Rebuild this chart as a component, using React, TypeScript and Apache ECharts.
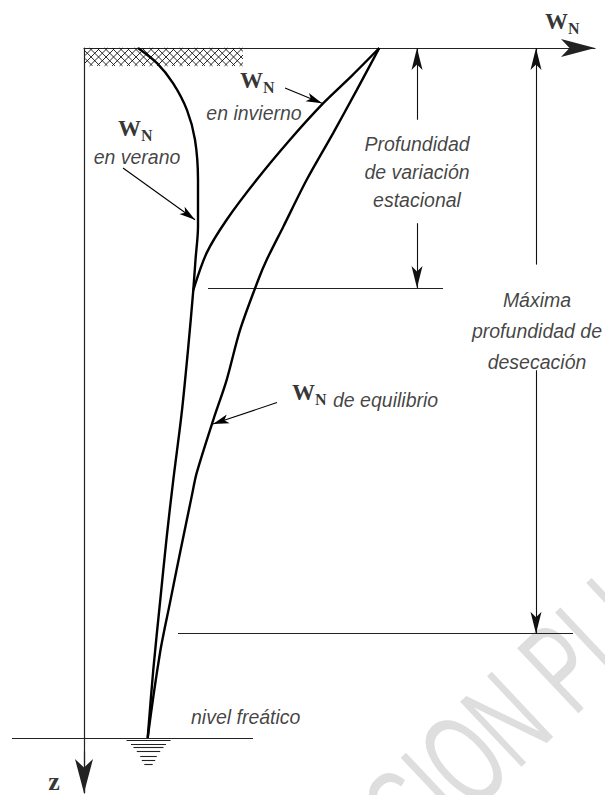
import React, { useEffect, useRef } from "react";
import * as echarts from "echarts";

// Water content W_N (horizontal) against depth z (vertical, downward); water table at z = 10
const summerW = [5.4, 7.3, 8.9, 10.3, 11.1, 11.4, 11.4, 11.15, 10.93, 10.43, 9.77, 8.93, 8.27, 7.6, 6.93, 6.37];
const summerZ = [0, 0.22, 0.51, 0.9, 1.33, 1.91, 2.59, 3.07, 3.51, 4.33, 5.29, 6.26, 7.09, 8.04, 9.01, 10.0];
const winterW = [29.53, 26.8, 23.93, 20.6, 17.27, 14.27, 12.27, 10.93];
const winterZ = [0, 0.4, 0.8, 1.33, 1.91, 2.49, 2.97, 3.51];
const equilW = [29.53, 27.27, 24.93, 22.27, 19.93, 18.27, 17.43, 15.6, 14.27, 12.93, 11.27, 10.77, 9.6, 8.6, 7.6, 6.37];
const equilZ = [0, 0.61, 1.23, 1.91, 2.59, 3.07, 3.36, 4.09, 4.81, 5.39, 6.16, 6.5, 7.32, 8.04, 8.77, 10.0];

// axis extents
const wMax = 51.1;
const zMax = 10.8;

// reference depths and the W_N span of their lines
const refDepths = [3.48, 8.49, 10.0];
const refFromW = [12.4, 9.4, -7.2];
const refToW = [35.9, 48.9, 16.9];

// water-table symbol below the line
const waterMarkW = 6.45;
const waterMarkDepth = [10.04, 10.09, 10.14, 10.2, 10.26, 10.32, 10.39];
const waterMarkHalf = [2.2, 1.75, 1.5, 1.17, 0.83, 0.67, 0.42];

// hatched surface crust [w0, w1, z0, z1]
const crustBox = [0.1, 15.9, 0, 0.26];

// pointer arrows (to curves), dimension arrows and axis arrowheads
const pointerFrom = [[3.9, 1.74], [20.1, 0.58], [19.3, 5.14]];
const pointerTo = [[11.1, 2.49], [23.8, 0.8], [12.9, 5.45]];
const dimFrom = [[33.3, 1.04], [33.3, 2.54], [45.2, 3.14], [45.2, 4.67]];
const dimTo = [[33.3, 0], [33.3, 3.48], [45.2, 0], [45.2, 8.49]];
const axisArrowFrom = [[47.0, 0], [0, 10.2]];
const axisArrowTo = [[wMax, 0], [0, zMax]];

// texts
const italicTexts = ["Profundidad\nde variación\nestacional", "Máxima\nprofundidad de\ndesecación", "en verano", "en invierno", "de equilibrio", "nivel freático"];
const italicPos = [[33.3, 1.8], [45.3, 4.1], [5.3, 1.58], [17.0, 0.94], [24.9, 5.1], [10.7, 9.7]];
const italicAlign = ["center", "center", "center", "center", "left", "left"];
const italicLineHeight = [28, 31, 24, 24, 24, 24];
const wnPos = [[46.1, -0.377], [3.4, 1.16], [15.6, 0.464], [20.8, 5.0]];
const zPos = [-3.0, 10.63];

const SANS = "'Liberation Sans', Arial, Helvetica, sans-serif";
const SERIF = "'Liberation Serif', 'Times New Roman', Times, serif";

// arrowhead with its tip at the centre of its box (so the tip lands on the end point)
const arrowPath = "path://M0,-20L0,-20M0,0L5,20L0,15L-5,20Z";

function zip(a: number[], b: number[]) {
  return a.map((v, i) => [v, b[i]]);
}

export default function App() {
  const ref = useRef<HTMLDivElement>(null);
  useEffect(() => {
    if (!ref.current) return;
    const chart = echarts.init(ref.current, null, { renderer: "svg" });

    const curveStyle = { color: "#000", width: 2.4 };
    const thin = { color: "#222", width: 1.2 };

    const option: any = {
      animation: false,
      backgroundColor: "#fff",
      grid: { left: 84, top: 48, right: 10, bottom: 2, containLabel: false },
      xAxis: {
        type: "value",
        min: 0,
        max: wMax,
        position: "top",
        axisLine: { show: true, onZero: false, lineStyle: thin },
        axisTick: { show: false },
        axisLabel: { show: false },
        splitLine: { show: false },
      },
      yAxis: {
        type: "value",
        min: 0,
        max: zMax,
        inverse: true,
        position: "left",
        axisLine: { show: true, onZero: false, lineStyle: thin },
        axisTick: { show: false },
        axisLabel: { show: false },
        splitLine: { show: false },
      },
      graphic: [
        {
          type: "text",
          x: 543,
          y: 685,
          rotation: 0.756,
          scaleX: 0.6,
          z: -10,
          silent: true,
          style: { text: "PLUS", fontSize: 130, fontFamily: SANS, fill: "#dedede", align: "left", verticalAlign: "middle" },
        },
        {
          type: "text",
          x: 527,
          y: 700,
          rotation: 0.756,
          scaleX: 0.6,
          z: -10,
          silent: true,
          style: { text: "VERSION", fontSize: 130, fontFamily: SANS, fill: "#dedede", align: "right", verticalAlign: "middle" },
        },
      ],
      series: [
        {
          type: "custom",
          name: "crust",
          silent: true,
          encode: { x: [0, 1], y: [2, 3] },
          data: [crustBox],
          renderItem: (params: any, api: any) => {
            const p0 = api.coord([api.value(0), api.value(2)]);
            const p1 = api.coord([api.value(1), api.value(3)]);
            const x0 = Math.min(p0[0], p1[0]);
            const y0 = Math.min(p0[1], p1[1]);
            const w = Math.abs(p1[0] - p0[0]);
            const h = Math.abs(p1[1] - p0[1]);
            const step = 7.5;
            const children: any[] = [];
            for (let s = -h; s < w; s += step) {
              const t0 = Math.max(0, -s);
              const t1 = Math.min(h, w - s);
              if (t1 <= t0) continue;
              children.push({
                type: "line",
                shape: { x1: x0 + s + t0, y1: y0 + t0, x2: x0 + s + t1, y2: y0 + t1 },
                style: { stroke: "#111", lineWidth: 0.9 },
              });
              children.push({
                type: "line",
                shape: { x1: x0 + s + t0, y1: y0 + h - t0, x2: x0 + s + t1, y2: y0 + h - t1 },
                style: { stroke: "#111", lineWidth: 0.9 },
              });
            }
            return { type: "group", children };
          },
          z: 1,
        },
        {
          type: "line",
          name: "verano",
          data: zip(summerW, summerZ),
          smooth: 0.3,
          symbol: "none",
          lineStyle: curveStyle,
          silent: true,
          z: 3,
        },
        {
          type: "line",
          name: "invierno",
          data: zip(winterW, winterZ),
          smooth: 0.3,
          symbol: "none",
          lineStyle: curveStyle,
          silent: true,
          z: 3,
        },
        {
          type: "line",
          name: "equilibrio",
          data: zip(equilW, equilZ),
          smooth: 0.3,
          symbol: "none",
          lineStyle: curveStyle,
          silent: true,
          z: 3,
        },
        {
          type: "lines",
          name: "refLines",
          coordinateSystem: "cartesian2d",
          clip: false,
          silent: true,
          lineStyle: { color: "#222", width: 1.2, opacity: 1 },
          data: refDepths.map((z, i) => ({ coords: [[refFromW[i], z], [refToW[i], z]] })),
          z: 2,
        },
        {
          type: "lines",
          name: "waterMark",
          coordinateSystem: "cartesian2d",
          clip: false,
          silent: true,
          lineStyle: { color: "#222", width: 1.1, opacity: 1 },
          data: waterMarkDepth.map((z, i) => ({
            coords: [[waterMarkW - waterMarkHalf[i], z], [waterMarkW + waterMarkHalf[i], z]],
          })),
          z: 2,
        },
        {
          type: "lines",
          name: "pointers",
          coordinateSystem: "cartesian2d",
          clip: false,
          silent: true,
          symbol: ["none", arrowPath],
          symbolSize: [0, [9, 32]],
          lineStyle: { color: "#000", width: 1.1, opacity: 1 },
          data: pointerFrom.map((f, i) => ({ coords: [f, pointerTo[i]] })),
          z: 4,
        },
        {
          type: "lines",
          name: "dimensions",
          coordinateSystem: "cartesian2d",
          clip: false,
          silent: true,
          symbol: ["none", arrowPath],
          symbolSize: [0, [11, 44]],
          lineStyle: { color: "#111", width: 1.1, opacity: 1 },
          data: dimFrom.map((f, i) => ({ coords: [f, dimTo[i]] })),
          z: 4,
        },
        {
          type: "lines",
          name: "axisArrows",
          coordinateSystem: "cartesian2d",
          clip: false,
          silent: true,
          symbol: ["none", arrowPath],
          symbolSize: [0, [18, 68]],
          lineStyle: { color: "#222", width: 1.2, opacity: 1 },
          data: axisArrowFrom.map((f, i) => ({ coords: [f, axisArrowTo[i]] })),
          z: 4,
        },
        {
          type: "scatter",
          name: "texts",
          clip: false,
          silent: true,
          symbolSize: 1,
          itemStyle: { color: "rgba(0,0,0,0)" },
          data: italicTexts.map((t, i) => ({
            value: italicPos[i],
            label: {
              show: true,
              position: "inside",
              formatter: t,
              align: italicAlign[i],
              verticalAlign: "middle",
              lineHeight: italicLineHeight[i],
              fontSize: 19.5,
              fontStyle: "italic",
              fontFamily: SANS,
              color: "#111",
            },
          })),
          z: 5,
        },
        {
          type: "scatter",
          name: "wn",
          clip: false,
          silent: true,
          symbolSize: 1,
          itemStyle: { color: "rgba(0,0,0,0)" },
          label: {
            show: true,
            position: "inside",
            align: "left",
            verticalAlign: "middle",
            formatter: "{w|W}{n|N}",
            rich: {
              w: { fontFamily: SERIF, fontWeight: "bold", fontSize: 23, lineHeight: 26, color: "#000" },
              n: { fontFamily: SERIF, fontWeight: "bold", fontSize: 16, lineHeight: 12, padding: [14, 0, 0, 0], color: "#000" },
            },
          },
          data: wnPos,
          z: 5,
        },
        {
          type: "scatter",
          name: "zlabel",
          clip: false,
          silent: true,
          symbolSize: 1,
          itemStyle: { color: "rgba(0,0,0,0)" },
          label: {
            show: true,
            position: "inside",
            formatter: "z",
            fontFamily: SERIF,
            fontWeight: "bold",
            fontSize: 26,
            lineHeight: 26,
            color: "#000",
          },
          data: [zPos],
          z: 5,
        },
      ],
    };
    chart.setOption(option);
    return () => {
      chart.dispose();
    };
  }, []);

  return (
    <div
      ref={ref}
      style={{ position: "fixed", left: 0, top: 0, width: 605, height: 795, background: "#fff" }}
    />
  );
}
